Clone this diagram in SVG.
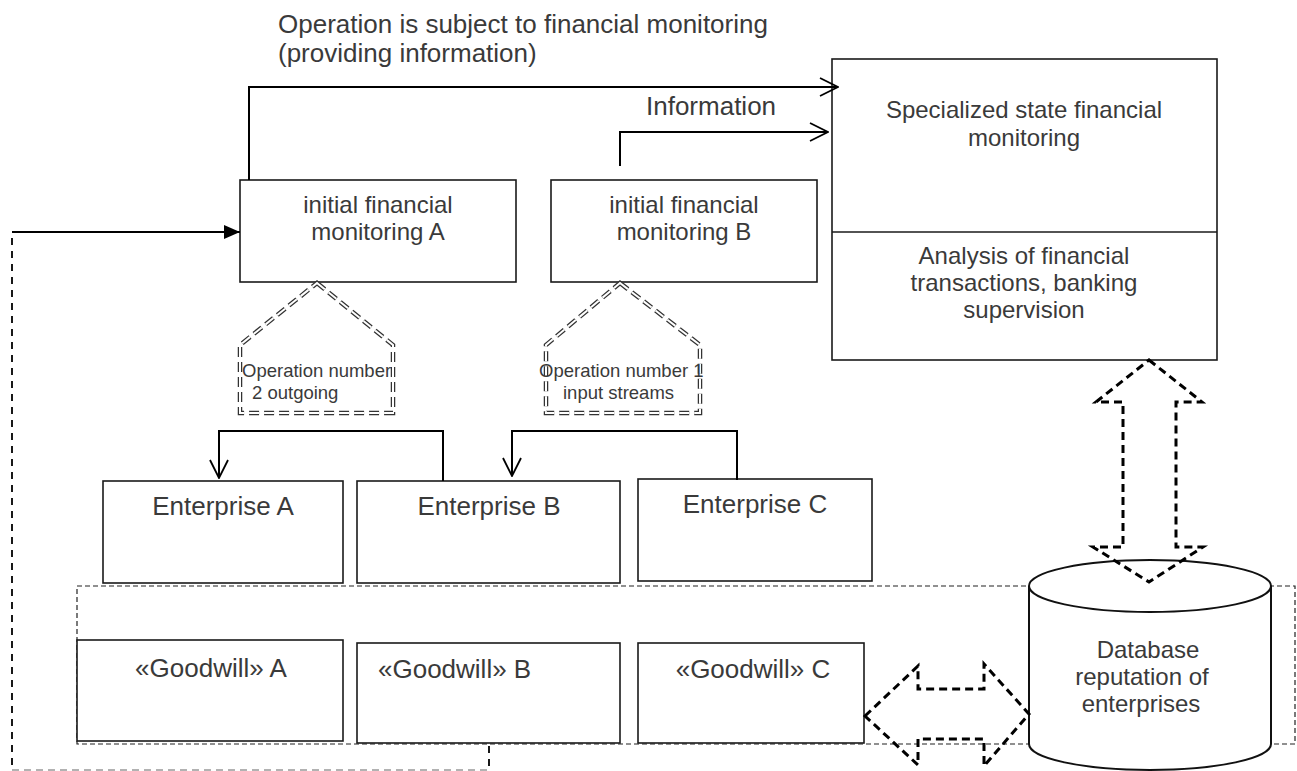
<svg xmlns="http://www.w3.org/2000/svg" width="1297" height="771" viewBox="0 0 1297 771">
<style>
  .box{fill:#fff;stroke:#1a1a1a;stroke-width:1.6}
  .t{font-family:"Liberation Sans",Arial,sans-serif;fill:#3a3a3a}
  .t26{font-size:26px}
  .t24{font-size:24px}
  .t18{font-size:18.5px}
  .mid{text-anchor:middle}
  .conn{fill:none;stroke:#000;stroke-width:2}
  .dl-out{fill:none;stroke:#333;stroke-width:4.5;stroke-dasharray:10 5}
  .dl-in{fill:none;stroke:#fff;stroke-width:2;stroke-dasharray:10 5}
  .block{fill:none;stroke:#000;stroke-width:3;stroke-dasharray:8 5}
  .cont{fill:none;stroke:#222;stroke-width:1.2;stroke-dasharray:5 3}
</style>
<defs>
  <marker id="open" viewBox="0 0 20 20" refX="19" refY="10" markerWidth="20" markerHeight="20" markerUnits="userSpaceOnUse" orient="auto">
    <path d="M1,1 L19,10 L1,19" fill="none" stroke="#000" stroke-width="1.8"/>
  </marker>
  <marker id="filled" viewBox="0 0 16 14" refX="16" refY="7" markerWidth="16" markerHeight="14" markerUnits="userSpaceOnUse" orient="auto">
    <path d="M0,0 L16,7 L0,14 Z" fill="#000"/>
  </marker>
</defs>
<rect width="1297" height="771" fill="#fff"/>

<!-- labels -->
<g id="label-top">
  <text class="t t26" x="278" y="33">Operation is subject to financial monitoring</text>
  <text class="t t26" x="278" y="62">(providing information)</text>
</g>
<g id="label-information">
  <text class="t t26" x="646" y="115">Information</text>
</g>

<!-- goodwill container -->
<g id="goodwill-container">
  <rect class="cont" x="77" y="586" width="1218" height="158"/>
</g>

<!-- nodes -->
<g id="state-monitoring">
  <rect class="box" x="832" y="59" width="385" height="301"/>
  <line x1="832" y1="232" x2="1217" y2="232" stroke="#1a1a1a" stroke-width="1.6"/>
  <text class="t t24 mid" x="1024" y="118">Specialized state financial</text>
  <text class="t t24 mid" x="1024" y="146">monitoring</text>
  <text class="t t24 mid" x="1024" y="264">Analysis of financial</text>
  <text class="t t24 mid" x="1024" y="291">transactions, banking</text>
  <text class="t t24 mid" x="1024" y="318">supervision</text>
</g>
<g id="monitoring-a">
  <rect class="box" x="240" y="180" width="276" height="102"/>
  <text class="t t24 mid" x="378" y="213">initial financial</text>
  <text class="t t24 mid" x="378" y="240">monitoring A</text>
</g>
<g id="monitoring-b">
  <rect class="box" x="551" y="180" width="266" height="102"/>
  <text class="t t24 mid" x="684" y="213">initial financial</text>
  <text class="t t24 mid" x="684" y="240">monitoring B</text>
</g>
<g id="operation-2">
  <polygon class="dl-out" points="317,283 393,345 393,413 240,413 240,345"/>
  <polygon class="dl-in" points="317,283 393,345 393,413 240,413 240,345"/>
  <text class="t t18" x="242" y="377">Operation number</text>
  <text class="t t18" x="252" y="399">2 outgoing</text>
</g>
<g id="operation-1">
  <polygon class="dl-out" points="620,283 700,345 700,413 546,413 546,345"/>
  <polygon class="dl-in" points="620,283 700,345 700,413 546,413 546,345"/>
  <text class="t t18" x="539" y="377">Operation number 1</text>
  <text class="t t18" x="563" y="399">input streams</text>
</g>
<g id="enterprise-a">
  <rect class="box" x="103" y="481" width="240" height="102"/>
  <text class="t t26 mid" x="223" y="515">Enterprise A</text>
</g>
<g id="enterprise-b">
  <rect class="box" x="357" y="481" width="263" height="102"/>
  <text class="t t26 mid" x="489" y="515">Enterprise B</text>
</g>
<g id="enterprise-c">
  <rect class="box" x="638" y="479" width="234" height="102"/>
  <text class="t t26 mid" x="755" y="513">Enterprise C</text>
</g>
<g id="goodwill-a">
  <rect class="box" x="77" y="640" width="266" height="101"/>
  <text class="t t26 mid" x="211" y="677">«Goodwill» A</text>
</g>
<g id="goodwill-b">
  <rect class="box" x="357" y="643" width="263" height="100"/>
  <text class="t t26" x="378" y="678">«Goodwill» B</text>
</g>
<g id="goodwill-c">
  <rect class="box" x="638" y="643" width="226" height="100"/>
  <text class="t t26 mid" x="753" y="678">«Goodwill» C</text>
</g>
<g id="database">
  <path d="M1029,586 A121,26 0 0 1 1271,586 V744 A121,26 0 0 1 1029,744 Z" fill="#fff" stroke="#111" stroke-width="2"/>
  <path d="M1029,586 A121,26 0 0 0 1271,586" fill="none" stroke="#111" stroke-width="2"/>
  <text class="t t24 mid" x="1148" y="658">Database</text>
  <text class="t t24 mid" x="1142" y="685">reputation of</text>
  <text class="t t24 mid" x="1141" y="712">enterprises</text>
</g>

<!-- connectors -->
<g id="connectors">
  <path class="conn" d="M249,180 V87 H838" marker-end="url(#open)"/>
  <path class="conn" d="M620,166 V132 H828" marker-end="url(#open)"/>
  <path class="conn" d="M443,481 V431 H219 V478" marker-end="url(#open)"/>
  <path class="conn" d="M737,480 V431 H512 V476" marker-end="url(#open)"/>
  <path class="conn" d="M12,232 H240" marker-end="url(#filled)"/>
  <path fill="none" stroke="#000" stroke-width="1.8" stroke-dasharray="7 6" d="M12,238 V770"/>
  <path fill="none" stroke="#999" stroke-width="1.5" stroke-dasharray="7 5" d="M12,770 H489"/>
  <path fill="none" stroke="#000" stroke-width="1.8" stroke-dasharray="7 6" d="M489,746 V771"/>
  <polygon class="block" points="1149,360 1202,402 1176,402 1176,547 1203,547 1149,582 1093,547 1123,547 1123,402 1096,402"/>
  <polygon class="block" points="865,716 918,666 918,689 984,689 984,664 1029,714 984,766 984,739 918,739 918,765"/>
</g>
</svg>
